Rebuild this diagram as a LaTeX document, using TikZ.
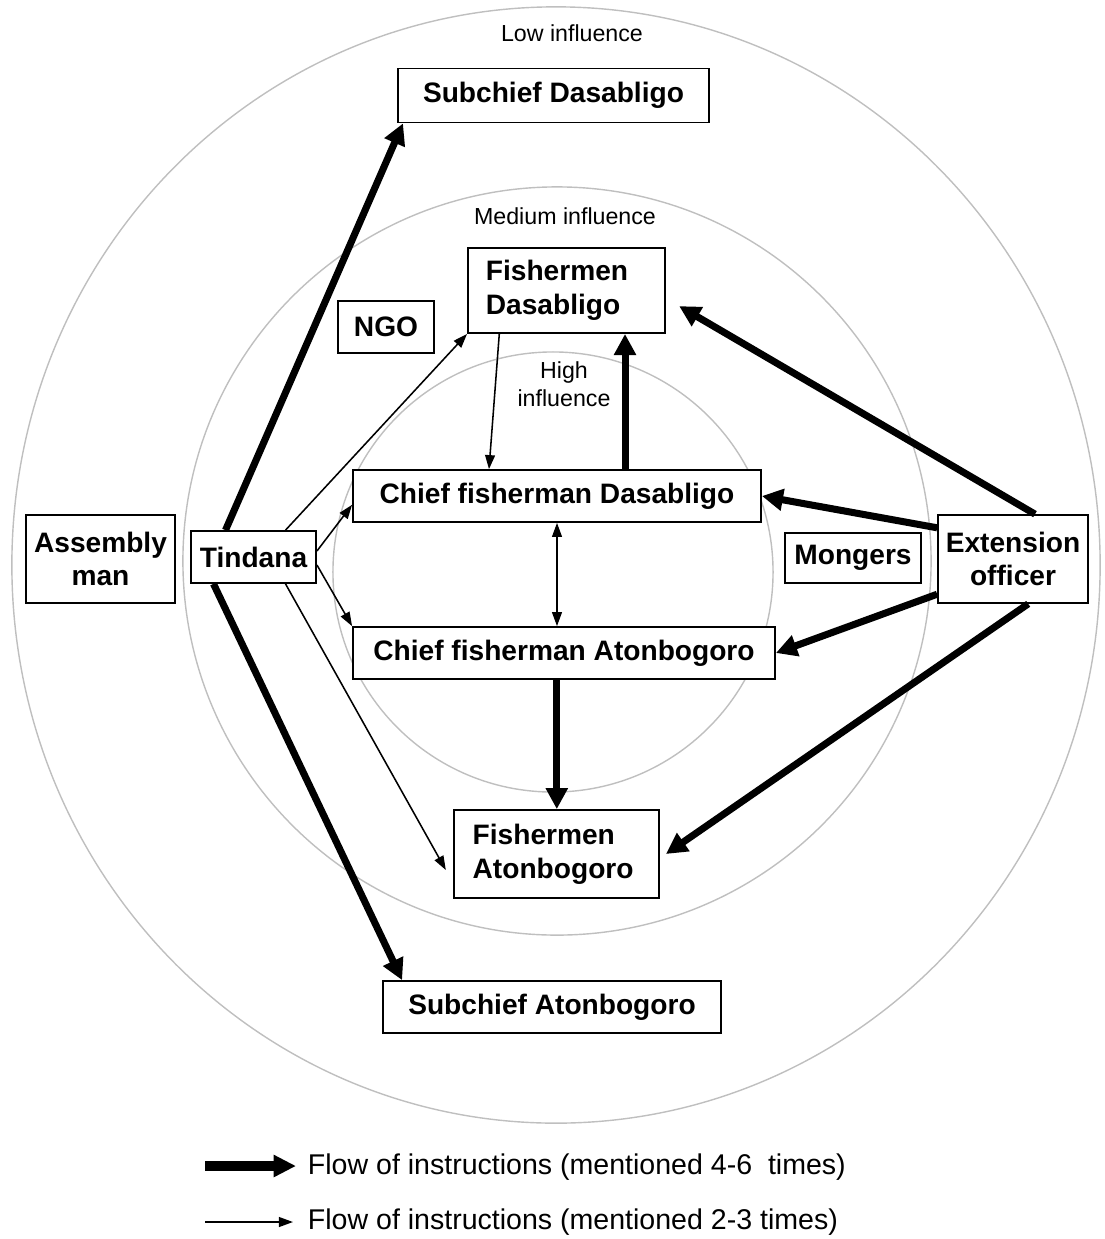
\documentclass[tikz,border=0pt]{standalone}
\usepackage{fontspec}
\setmainfont{Liberation Sans}
\usetikzlibrary{arrows.meta}

\begin{document}
\begin{tikzpicture}[x=0.025cm, y=-0.025cm, font=\fontsize{16.5}{20}\selectfont]

  \tikzset{act/.style={draw, fill=white, line width=1.2pt, inner sep=2pt,
                       font=\fontsize{20}{24}\selectfont\bfseries, align=center},
           ring/.style={draw=black!25, line width=1pt},
           hi/.style={line width=5pt, >={Triangle[length=15pt,width=15pt]}, ->},
           lo/.style={line width=1.1pt, >={Triangle[length=10pt,width=7pt]}, ->}}

  \useasboundingbox (0,0) rectangle (1105,1239);

  % influence rings
  \draw[ring] (556,565) ellipse [x radius=13.6cm, y radius=13.95cm];
  \draw[ring] (557,561) circle [radius=9.35cm];
  \draw[ring] (553,572) circle [radius=5.5cm];
  \node (low) at (572,33) {Low influence};
  \node (med) at (565,216) {Medium influence};
  \node[align=center] (high) at (564,384) {High\\influence};

  % actors
  \node[act, minimum width=7.78cm, minimum height=1.35cm] (subD) at (553.5,95.5) {Subchief Dasabligo};
  \node[act, minimum height=2.13cm, align=left, inner xsep=0.45cm, text width=4.03cm] (fishD) at (566.5,290.5) {Fishermen\\Dasabligo};
  \node[act, minimum width=2.4cm, minimum height=1.3cm] (ngo) at (386,327) {NGO};
  \node[act, minimum width=10.2cm, minimum height=1.3cm] (chiefD) at (557,496) {Chief fisherman Dasabligo};
  \node[act, minimum width=3.73cm, minimum height=2.2cm] (assembly) at (100.5,559) {Assembly\\man};
  \node[act, minimum width=3.13cm, minimum height=1.3cm] (tindana) at (253.5,557) {Tindana};
  \node[act, minimum width=3.4cm, minimum height=1.25cm] (mongers) at (853,558) {Mongers};
  \node[act, minimum width=3.75cm, minimum height=2.2cm] (ext) at (1013,559) {Extension\\officer};
  \node[act, minimum width=10.55cm, minimum height=1.3cm] (chiefA) at (564,653) {Chief fisherman Atonbogoro};
  \node[act, minimum height=2.2cm, align=left, inner xsep=0.47cm, text width=4.19cm] (fishA) at (556.5,854) {Fishermen\\Atonbogoro};
  \node[act, minimum width=8.45cm, minimum height=1.3cm] (subA) at (552,1007) {Subchief Atonbogoro};

  % instructions from the Tindana
  \draw[hi] ([xshift=-0.7cm]tindana.north) -- ([xshift=0.15cm]subD.south west);
  \draw[hi] ([xshift=-1cm]tindana.south) -- ([xshift=0.5cm]subA.north west);
  \draw[lo] ([xshift=0.8cm]tindana.north) -- (fishD.south west);
  \draw[lo] ([yshift=0.15cm]tindana.east) -- ([yshift=-0.22cm]chiefD.west);
  \draw[lo] ([yshift=-0.2cm]tindana.east) -- (chiefA.north west);
  \draw[lo] ([xshift=0.8cm]tindana.south) -- ([xshift=-0.18cm,yshift=-0.4cm]fishA.west);

  % between the chief fishermen and the fishermen
  \draw[lo] ([xshift=-1.68cm]fishD.south) -- ([xshift=-1.7cm]chiefD.north);
  \draw[lo, <->] (chiefD.south) -- (chiefD.south |- chiefA.north);
  \draw[hi] ([xshift=1.7cm]chiefD.north) -- ([xshift=1.7cm]chiefD.north |- fishD.south);
  \draw[hi] ([xshift=-0.18cm]chiefA.south) -- ([xshift=-0.18cm]chiefA.south |- fishA.north);

  % instructions from the extension officer
  \draw[hi] ([xshift=0.55cm]ext.north) -- ([xshift=0.33cm,yshift=-0.39cm]fishD.east);
  \draw[hi] ([yshift=0.78cm]ext.west) -- (chiefD.east);
  \draw[hi] ([yshift=-0.88cm]ext.west) -- (chiefA.east);
  \draw[hi] ([xshift=0.38cm]ext.south) -- ([xshift=0.15cm]fishA.east);

  % legend
  \coordinate (k1) at (205,1166);
  \coordinate (k2) at (296,1166);
  \coordinate (k3) at (205,1222);
  \coordinate (k4) at (293,1222);
  \draw[hi, line width=7pt, >={Triangle[length=16pt,width=15pt]}] (k1) -- (k2);
  \draw[lo] (k3) -- (k4);
  \node[anchor=west, font=\fontsize{20.3}{24}\selectfont] (leg1) at (303,1167) {Flow of instructions (mentioned 4-6~ times)};
  \node[anchor=west, font=\fontsize{20.3}{24}\selectfont] (leg2) at (303,1222) {Flow of instructions (mentioned 2-3 times)};

\end{tikzpicture}
\end{document}
